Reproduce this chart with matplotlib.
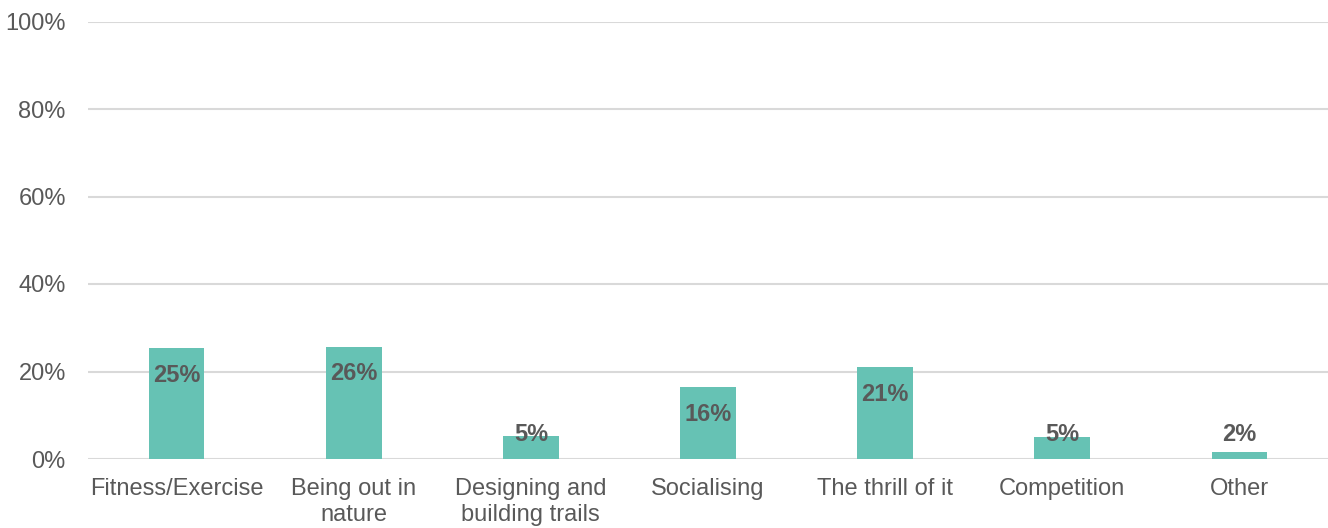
import matplotlib.pyplot as plt
from matplotlib.ticker import FuncFormatter

categories = ["Fitness/Exercise", "Being out in\nnature", "Designing and\nbuilding trails",
              "Socialising", "The thrill of it", "Competition", "Other"]
values = [25.3, 25.7, 5.3, 16.4, 21.0, 5.0, 1.7]
labels = ["25%", "26%", "5%", "16%", "21%", "5%", "2%"]

plt.rcParams['font.family'] = ['Liberation Sans', 'DejaVu Sans']
text_col = '#595959'

fig = plt.figure(figsize=(13.28, 5.28), dpi=100)
ax = fig.add_axes([88/1328, 69/528, 1240/1328, 437.5/528])

x = range(len(categories))
ax.bar(x, values, width=0.315, color='#66C2B4', zorder=3)

for i, (v, lab) in enumerate(zip(values, labels)):
    ypos = max(v - 6.2, 5.7)
    ax.text(i, ypos, lab, ha='center', va='center', fontsize=17,
            fontweight='bold', color=text_col, zorder=4)

ax.set_xlim(-0.5, len(categories) - 0.5)
ax.set_ylim(0, 100)
ax.set_yticks(range(0, 101, 20))
ax.yaxis.set_major_formatter(FuncFormatter(lambda v, p: f"{int(v)}%"))
ax.set_xticks(list(x))
ax.set_xticklabels(categories, linespacing=1.2)
ax.tick_params(axis='both', length=0, labelsize=17, colors=text_col)
ax.tick_params(axis='x', pad=14)
ax.tick_params(axis='y', pad=16)
ax.grid(axis='y', color='#D9D9D9', linewidth=1.5, zorder=0)
for s in ax.spines.values():
    s.set_visible(False)

plt.savefig("out.png", dpi=100)
